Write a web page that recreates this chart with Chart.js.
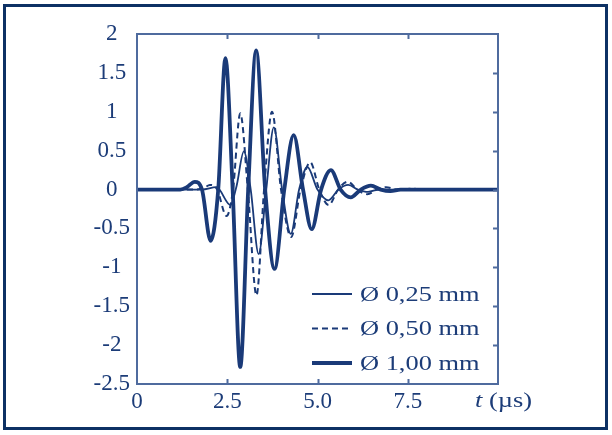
<!DOCTYPE html>
<html>
<head>
<meta charset="utf-8">
<script src="https://cdn.jsdelivr.net/npm/chart.js@4.4.1/dist/chart.umd.min.js"></script>
<style>
  html, body { margin: 0; padding: 0; background: #fff; }
  #wrap { position: relative; width: 612px; height: 435px; }
  #frame { position: absolute; left: 3px; top: 4px; width: 605px; height: 426px;
           box-sizing: border-box; border: 3px solid #0d3164; pointer-events: none; }
  canvas { position: absolute; left: 0; top: 0; }
</style>
</head>
<body>
<div id="wrap">
  <canvas id="chart" width="612" height="435"></canvas>
  <div id="frame"></div>
</div>
<script>
// time (µs) / amplitude, one pair of arrays per wire diameter
const thinT  = [0, 1.8, 2.2, 2.59, 2.76, 2.96, 3.15, 3.37, 3.58, 3.79, 4.02, 4.26, 4.49, 4.72, 5.0, 5.3, 5.58, 5.85, 6.12, 6.4, 6.7, 10];
const thinV  = [0, 0, 0.03, -0.2, 0.05, 0.49, 0, -0.83, 0, 0.8, 0, -0.57, 0, 0.29, 0, -0.14, 0, 0.06, 0, -0.03, 0, 0];

const midT   = [0, 1.6, 1.85, 2.02, 2.22, 2.48, 2.66, 2.86, 3.07, 3.31, 3.52, 3.74, 3.99, 4.27, 4.53, 4.8, 5.05, 5.31, 5.57, 5.84, 6.1, 6.38, 6.65, 6.9, 7.2, 7.6, 8.0, 10];
const midV   = [0, 0, 0.02, 0.06, 0, -0.34, 0, 0.98, 0, -1.36, 0, 1.0, 0, -0.61, 0, 0.35, 0, -0.2, 0, 0.1, 0, -0.06, 0, 0.03, 0, 0.01, 0, 0];

const thickT = [0, 1.2, 1.38, 1.6, 1.8, 2.04, 2.25, 2.45, 2.65, 2.86, 3.08, 3.3, 3.55, 3.81, 4.08, 4.34, 4.6, 4.84, 5.1, 5.37, 5.64, 5.92, 6.2, 6.48, 6.75, 7.02, 7.3, 10];
const thickV = [0, 0, 0.03, 0.1, 0, -0.66, 0, 1.69, 0, -2.28, 0, 1.79, 0, -1.02, 0, 0.7, 0, -0.51, 0, 0.25, 0, -0.1, 0, 0.05, 0, -0.02, 0, 0];

const seriesNames = ["Ø 0,25 mm", "Ø 0,50 mm", "Ø 1,00 mm"];
const xTicks = [0, 2.5, 5, 7.5, 10];
const yTicks = [-2.5, -2, -1.5, -1, -0.5, 0, 0.5, 1, 1.5, 2];

const navy = "#1a3a78";
const boxColor = "#4f6b9e";
const textColor = "#1c3c78";
const serif = '"Liberation Serif", "Times New Roman", serif';

function pts(ts, vs) {
  return ts.map((t, i) => ({ x: t, y: vs[i] }));
}

// text in the source is a little wider than the font, so stretch it sideways
function wideText(ctx, str, x, y, font) {
  ctx.save();
  ctx.font = font;
  ctx.translate(x, y);
  ctx.scale(1.2, 1);
  ctx.fillText(str, 0, 0);
  const w = ctx.measureText(str).width * 1.2;
  ctx.restore();
  return w;
}

// box, inward ticks, legend inside the plot, axis title
const decor = {
  id: "decor",
  afterDatasetsDraw(chart) {
    const { ctx, chartArea: a, scales: { x, y } } = chart;
    ctx.save();
    ctx.strokeStyle = boxColor;
    ctx.lineWidth = 2;
    ctx.strokeRect(a.left, a.top, a.right - a.left, a.bottom - a.top);

    ctx.beginPath();
    xTicks.slice(1, -1).forEach(v => {
      const px = Math.round(x.getPixelForValue(v)) + 0.5;
      ctx.moveTo(px, a.top); ctx.lineTo(px, a.top + 5);
      ctx.moveTo(px, a.bottom); ctx.lineTo(px, a.bottom - 5);
    });
    yTicks.slice(1, -1).forEach(v => {
      const py = Math.round(y.getPixelForValue(v)) + 0.5;
      ctx.moveTo(a.right, py); ctx.lineTo(a.right - 5, py);
    });
    ctx.stroke();

    // legend
    const rows = [294, 328.5, 363];
    ctx.fillStyle = textColor;
    ctx.textAlign = "left";
    ctx.textBaseline = "middle";
    chart.data.datasets.forEach((ds, i) => {
      ctx.beginPath();
      ctx.strokeStyle = navy;
      ctx.lineWidth = ds.borderWidth;
      ctx.setLineDash(ds.borderDash || []);
      ctx.moveTo(312, rows[i]);
      ctx.lineTo(352, rows[i]);
      ctx.stroke();
      ctx.setLineDash([]);
      wideText(ctx, ds.label, 360, rows[i] + 1, "22px " + serif);
    });

    // axis title in place of the last tick label
    const w = wideText(ctx, "t", 475, 401, "italic 22px " + serif);
    wideText(ctx, " (µs)", 475 + w, 401, "22px " + serif);
    ctx.restore();
  }
};

function render() {
  const canvas = document.getElementById("chart");
  new Chart(canvas, {
    type: "line",
    data: {
      datasets: [
        { label: seriesNames[0], data: pts(thinT, thinV), borderColor: navy, borderWidth: 1.8 },
        { label: seriesNames[1], data: pts(midT, midV), borderColor: navy, borderWidth: 2, borderDash: [6, 4] },
        { label: seriesNames[2], data: pts(thickT, thickV), borderColor: navy, borderWidth: 3.8 }
      ]
    },
    options: {
      responsive: false,
      animation: false,
      layout: { padding: { left: 0, top: 34, right: 114, bottom: 0 } },
      elements: {
        point: { radius: 0 },
        line: { cubicInterpolationMode: "monotone", fill: false }
      },
      plugins: {
        legend: { display: false },
        tooltip: { enabled: false }
      },
      scales: {
        x: {
          type: "linear",
          min: 0, max: 10,
          afterBuildTicks: s => { s.ticks = xTicks.map(v => ({ value: v })); },
          afterFit: s => { s.height = 51; },
          grid: { display: false, drawTicks: false },
          border: { display: false },
          ticks: {
            color: textColor,
            font: { family: serif, size: 23 },
            padding: 4,
            maxRotation: 0,
            callback: v => v === 0 ? "0" : v === 10 ? "" : v.toFixed(1)
          }
        },
        y: {
          min: -2.5, max: 2,
          afterBuildTicks: s => { s.ticks = yTicks.map(v => ({ value: v })); },
          afterFit: s => { s.width = 137; },
          grid: { display: false, drawTicks: false },
          border: { display: false },
          ticks: {
            color: textColor,
            font: { family: serif, size: 23 },
            padding: 7,
            crossAlign: "center",
            callback: v => String(v)
          }
        }
      }
    },
    plugins: [decor]
  });
}

window.addEventListener("DOMContentLoaded", render);
</script>
</body>
</html>
